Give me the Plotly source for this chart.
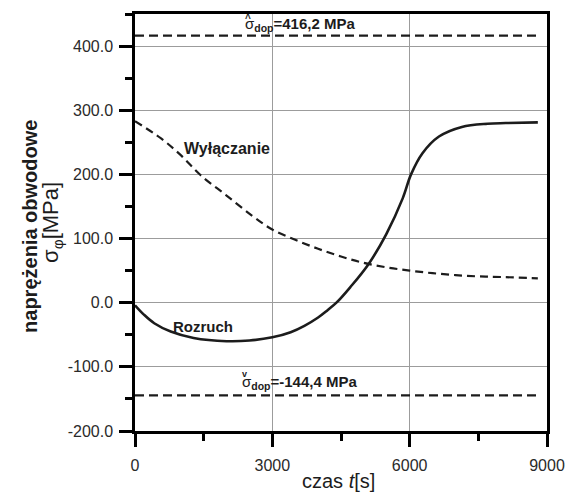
import plotly.graph_objects as go

# Start-up (Rozruch) hoop stress vs time
t_rozruch = [0, 200, 420, 780, 1280, 2000, 2500, 3000, 3400, 3700, 4000, 4200,
             4400, 4700, 5100, 5490, 5850, 6030, 6280, 6640, 7140, 7700, 8100, 8800]
s_rozruch = [-4, -19, -32, -45, -55, -60, -59, -54, -46, -36, -23, -12,
             0, 24, 60, 107, 163, 200, 233, 259, 274, 279, 280, 281]

# Shut-down (Wyłączanie) hoop stress vs time
t_wylaczanie = [0, 570, 1000, 1430, 2000, 2570, 3000, 3500, 4000, 4500, 5000,
                5500, 6000, 6500, 7000, 7500, 8000, 8800]
s_wylaczanie = [283, 256, 230, 199, 167, 135, 114, 98, 84, 72, 62,
                55, 50, 46, 43, 41, 40, 38]

# Allowable stress limits
t_limit = [0, 8800]
sigma_dop_max = 416.2
sigma_dop_min = -144.4

# Tick labels
y_tick_vals = [-200, -100, 0, 100, 200, 300, 400]
y_tick_text = ["-200.0", "-100.0", "0.0", "100.0", "200.0", "300.0", "400.0"]
x_tick_vals = [0, 3000, 6000, 9000]
x_tick_text = ["0", "3000", "6000", "9000"]

FONT = "Liberation Sans, Arial, sans-serif"
INK = "#1c1c1c"

fig = go.Figure()

fig.add_trace(go.Scatter(
    x=t_rozruch, y=s_rozruch, mode="lines",
    line=dict(color=INK, width=2.6, shape="spline", smoothing=1.0),
))
fig.add_trace(go.Scatter(
    x=t_wylaczanie, y=s_wylaczanie, mode="lines",
    line=dict(color=INK, width=2.2, dash="8px,5px", shape="spline", smoothing=1.0),
))
for level in (sigma_dop_max, sigma_dop_min):
    fig.add_trace(go.Scatter(
        x=t_limit, y=[level, level], mode="lines",
        line=dict(color=INK, width=2.2, dash="9px,5px"),
    ))

axis_common = dict(
    showline=True, linecolor="black", linewidth=2.5, mirror=True,
    ticks="outside", ticklen=13, tickwidth=2.5, tickcolor="black",
    showgrid=True, gridcolor="#9c9c9c", gridwidth=1, zeroline=False,
    tickfont=dict(family=FONT, size=16, color="#2a2a2a"),
    tickmode="array",
)

fig.update_xaxes(
    **axis_common,
    range=[0, 9000],
    tickvals=x_tick_vals, ticktext=x_tick_text,
    ticklabelstandoff=5,
    minor=dict(tickmode="linear", tick0=0, dtick=1500, ticks="outside",
               ticklen=7, tickwidth=2.5, tickcolor="black", showgrid=False),
)
fig.update_yaxes(
    **axis_common,
    range=[-200, 450],
    tickvals=y_tick_vals, ticktext=y_tick_text,
    ticklabelstandoff=3,
    minor=dict(tickmode="linear", tick0=0, dtick=50, ticks="outside",
               ticklen=7, tickwidth=2.5, tickcolor="black", showgrid=False),
)

label_font = dict(family=FONT, size=15, color=INK)

annotations = [
    # limit labels, with the accent marks drawn above the sigma
    dict(x=0.2625, xref="paper", y=sigma_dop_max, yref="y",
         text="σ<sub><b>dop</b></sub><b>=416,2 MPa</b>",
         xanchor="left", yanchor="bottom", yshift=0,
         font=label_font, showarrow=False),
    dict(x=0.2745, xref="paper", y=0.990, yref="paper", text="<b>^</b>",
         xanchor="center", yanchor="middle", showarrow=False,
         font=dict(family=FONT, size=10, color=INK)),
    dict(x=0.2547, xref="paper", y=sigma_dop_min, yref="y",
         text="σ<sub><b>dop</b></sub><b>=-144,4 MPa</b>",
         xanchor="left", yanchor="bottom", yshift=1,
         font=label_font, showarrow=False),
    dict(x=0.2661, xref="paper", y=0.136, yref="paper", text="<b>v</b>",
         xanchor="center", yanchor="middle", showarrow=False,
         font=dict(family=FONT, size=9, color=INK)),
    # curve labels
    dict(x=2020, y=240, text="<b>Wyłączanie</b>", showarrow=False,
         xanchor="center", yanchor="middle",
         font=dict(family=FONT, size=16, color=INK)),
    dict(x=1475, y=-37, text="<b>Rozruch</b>", showarrow=False,
         xanchor="center", yanchor="middle",
         font=dict(family=FONT, size=15, color=INK)),
    # axis titles
    dict(x=-0.2566, xref="paper", y=0.49, yref="paper",
         text="<b>naprężenia obwodowe</b>", textangle=-90,
         xanchor="center", yanchor="middle", showarrow=False,
         font=dict(family=FONT, size=20, color=INK)),
    dict(x=-0.2029, xref="paper", y=0.50, yref="paper",
         text="σ<sub>φ</sub>[MPa]", textangle=-90,
         xanchor="center", yanchor="middle", showarrow=False,
         font=dict(family=FONT, size=22, color=INK)),
    dict(x=0.493, xref="paper", y=-0.121, yref="paper",
         text="czas <i>t</i>[s]",
         xanchor="center", yanchor="middle", showarrow=False,
         font=dict(family=FONT, size=20, color=INK)),
]

fig.update_layout(
    width=576, height=493,
    margin=dict(l=135, r=22, t=11, b=62),
    plot_bgcolor="white", paper_bgcolor="white",
    showlegend=False,
    annotations=annotations,
)

fig.write_html("out.html")
